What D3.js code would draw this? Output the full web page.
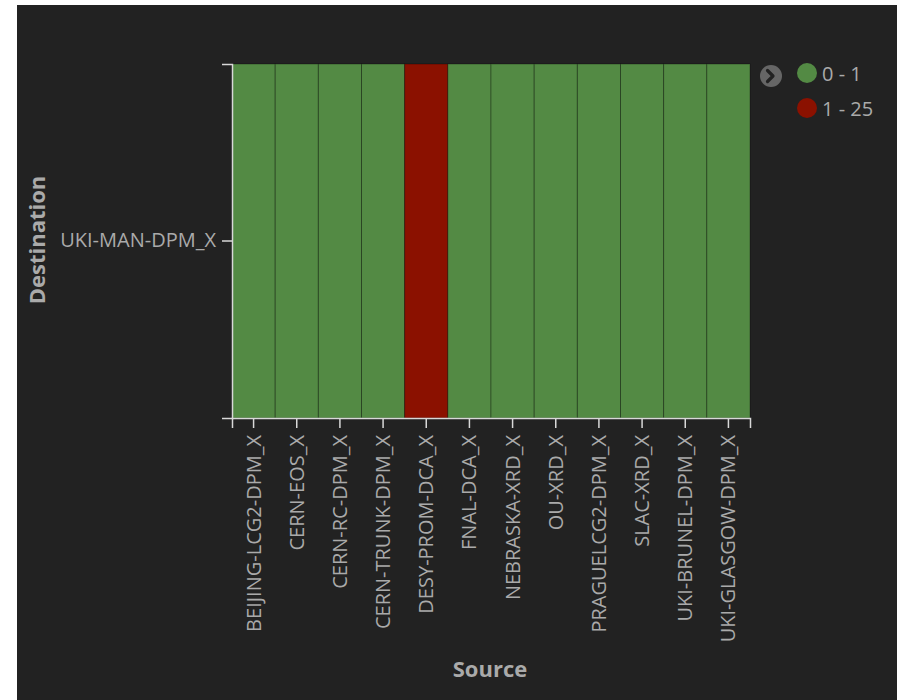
<!DOCTYPE html>
<html>
<head>
<meta charset="utf-8">
<script src="https://cdn.jsdelivr.net/npm/d3@7"></script>
<style>
  body { margin: 0; background: #fff; }
  svg { display: block; }
  text { font-family: "Open Sans", sans-serif; }
</style>
</head>
<body>
<svg id="chart" width="897" height="700"></svg>
<script>
// data
const sources = ["BEIJING-LCG2-DPM_X", "CERN-EOS_X", "CERN-RC-DPM_X", "CERN-TRUNK-DPM_X",
  "DESY-PROM-DCA_X", "FNAL-DCA_X", "NEBRASKA-XRD_X", "OU-XRD_X",
  "PRAGUELCG2-DPM_X", "SLAC-XRD_X", "UKI-BRUNEL-DPM_X", "UKI-GLASGOW-DPM_X"];
const destinations = ["UKI-MAN-DPM_X"];
// one value per source (single destination row)
const values = [0, 0, 0, 0, 5, 0, 0, 0, 0, 0, 0, 0];
const binLabels = ["0 - 1", "1 - 25"];
const binColors = ["#538a44", "#8b1100"];

const svg = d3.select("#chart");
const textColor = "#aaaaaa";
const axisColor = "#d8d8d8";

// dark panel
svg.append("rect").attr("x", 17).attr("y", 5).attr("width", 880).attr("height", 695).attr("fill", "#222222");

const plotLeft = 232, plotRight = 750, plotTop = 64, plotBottom = 418;

const x = d3.scaleBand().domain(sources).range([plotLeft, plotRight]);
const y = d3.scaleBand().domain(destinations).range([plotTop, plotBottom]);
const color = d3.scaleThreshold().domain([1]).range(binColors);

const cells = sources.map((s, i) => ({ source: s, dest: destinations[0], value: values[i] }));

svg.append("g").selectAll("rect").data(cells).enter().append("rect")
  .attr("x", d => x(d.source))
  .attr("y", d => y(d.dest))
  .attr("width", x.bandwidth())
  .attr("height", y.bandwidth())
  .attr("fill", d => color(d.value))
  .attr("stroke", "rgba(0,0,0,0.3)")
  .attr("stroke-width", 1);

// axes
const xAxis = svg.append("g").attr("transform", `translate(0,${plotBottom})`)
  .call(d3.axisBottom(x).tickSize(10).tickSizeOuter(10));
xAxis.selectAll("text")
  .attr("transform", "rotate(-90)")
  .attr("text-anchor", "end")
  .attr("x", -17).attr("y", 0).attr("dy", "0.35em")
  .attr("font-size", 20);

const yAxis = svg.append("g").attr("transform", `translate(${plotLeft},0)`)
  .call(d3.axisLeft(y).tickSize(10).tickSizeOuter(10).tickPadding(6));
yAxis.selectAll("text").attr("font-size", 20);

[xAxis, yAxis].forEach(g => {
  g.attr("font-family", null);
  g.selectAll("path, line").attr("stroke", axisColor).attr("stroke-width", 1.5);
  g.selectAll("text").attr("fill", textColor);
});

// axis titles
svg.append("text").attr("x", 490).attr("y", 677)
  .attr("text-anchor", "middle").attr("font-size", 22).attr("font-weight", "bold")
  .attr("fill", textColor).text("Source");
svg.append("text").attr("transform", "translate(45,240) rotate(-90)")
  .attr("text-anchor", "middle").attr("font-size", 22).attr("font-weight", "bold")
  .attr("fill", textColor).text("Destination");

// legend
const legend = svg.append("g");
legend.append("circle").attr("cx", 771).attr("cy", 76).attr("r", 11).attr("fill", "#666666");
legend.append("path").attr("d", "M767.5,70.5 L773,76 L767.5,81.5")
  .attr("fill", "none").attr("stroke", "#222").attr("stroke-width", 3.2)
  .attr("stroke-linecap", "round").attr("stroke-linejoin", "round");

legend.selectAll(".item").data(binLabels).enter().append("g")
  .attr("class", "item")
  .attr("transform", (d, i) => `translate(807,${73 + i * 35})`)
  .each(function (d, i) {
    const g = d3.select(this);
    g.append("circle").attr("r", 10).attr("fill", binColors[i]);
    g.append("text").attr("x", 15).attr("y", 8).attr("font-size", 20)
      .attr("fill", textColor).text(d);
  });
</script>
</body>
</html>
